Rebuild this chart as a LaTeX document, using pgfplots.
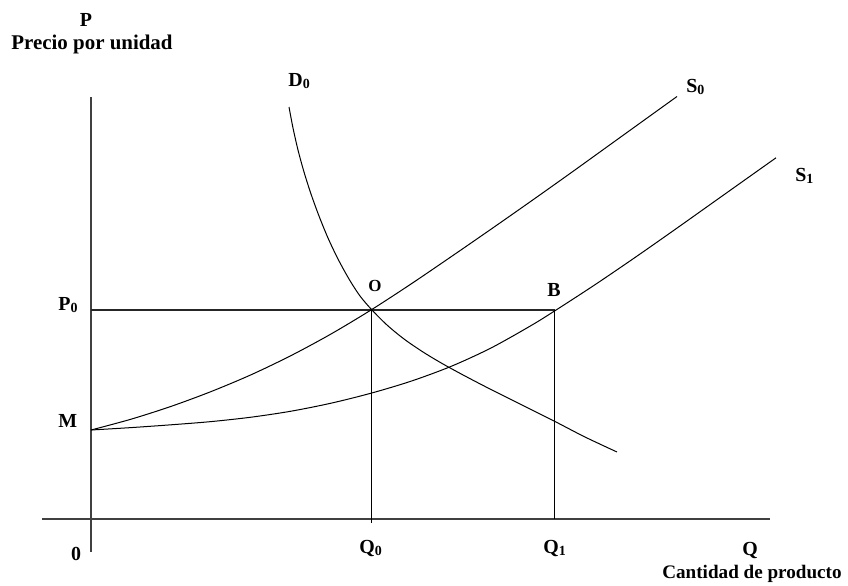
\documentclass[border=0pt]{standalone}
\usepackage{pgfplots}
\pgfplotsset{compat=1.18}
\usepackage{fontspec}
\setmainfont{Liberation Serif}
\newcommand{\sub}[1]{\raisebox{-0.3ex}{\fontsize{7}{8}\selectfont\bfseries #1}}
\tikzset{lbl/.style={font=\fontsize{10}{12}\selectfont\bfseries, inner sep=0pt}}
\begin{document}
\begin{tikzpicture}
\begin{axis}[
  width=424bp, height=293bp, scale only axis,
  xmin=0, xmax=848, ymin=0, ymax=586, y dir=reverse,
  hide axis, clip=false,
]
\addplot[draw=none] coordinates {(0,0) (848,586)};
% axes
\addplot[black!75, line width=0.8bp] coordinates {(91,97) (91,552)};
\addplot[black!75, line width=0.8bp] coordinates {(42,519) (770,519)};
% reference lines
\addplot[black!85, line width=0.6bp] coordinates {(91,310) (555,310)};
\addplot[black, line width=0.5bp] coordinates {(371,310) (371,523)};
\addplot[black, line width=0.5bp] coordinates {(554,310) (554,519)};
% D0
\addplot[black, line width=0.5bp, smooth] coordinates {
(289,107) (293,128) (298,150) (304,172) (311,194) (319,216) (328,238) (338,259)
(349,279) (360,296) (372,310) (387,325) (404,339) (423,352) (443,364) (465,376)
(490,389) (520,404) (554,421) (585,437) (617,452)};
% S0
\addplot[black, line width=0.5bp, smooth] coordinates {
(91,430) (131,419.2) (171,406.4) (211,391.6) (251,374.8) (291,355.6) (331,334)
(371,310) (411,284) (451,256.8) (491,229.2) (531,201.2) (571,172.8) (611,144)
(651,115.2) (677,96.5)};
% S1
\addplot[black, line width=0.5bp, smooth] coordinates {
(91,430) (131,427.6) (171,424.8) (211,421.6) (251,417.2) (291,411.2) (331,403.2)
(371,393.2) (411,381.2) (451,366.4) (491,348) (531,325.6) (555,310.7) (595,284.7)
(635,257.5) (675,229.5) (715,201.1) (755,172.7) (776,157.8)};
% labels
\node[lbl, anchor=base] at (axis cs:86,27) {P};
\node[lbl, anchor=base, font=\fontsize{10.5}{12}\selectfont\bfseries] at (axis cs:92,50) {Precio por unidad};
\node[lbl, anchor=base west] at (axis cs:288,86) {D\sub{0}};
\node[lbl, anchor=base west] at (axis cs:686,92) {S\sub{0}};
\node[lbl, anchor=base west] at (axis cs:795,181) {S\sub{1}};
\node[lbl, anchor=base west] at (axis cs:58,310) {P\sub{0}};
\node[lbl, anchor=base west] at (axis cs:58,427) {M};
\node[lbl, anchor=base, font=\fontsize{8.5}{10}\selectfont\bfseries] at (axis cs:375,291) {O};
\node[lbl, anchor=base] at (axis cs:554,296) {B};
\node[lbl, anchor=base] at (axis cs:76,560) {0};
\node[lbl, anchor=base west] at (axis cs:359,553) {Q\sub{0}};
\node[lbl, anchor=base west] at (axis cs:543,553) {Q\sub{1}};
\node[lbl, anchor=base] at (axis cs:750,555) {Q};
\node[lbl, anchor=base, font=\fontsize{9.6}{11}\selectfont\bfseries] at (axis cs:752,578) {Cantidad de producto};
\end{axis}
\end{tikzpicture}
\end{document}
